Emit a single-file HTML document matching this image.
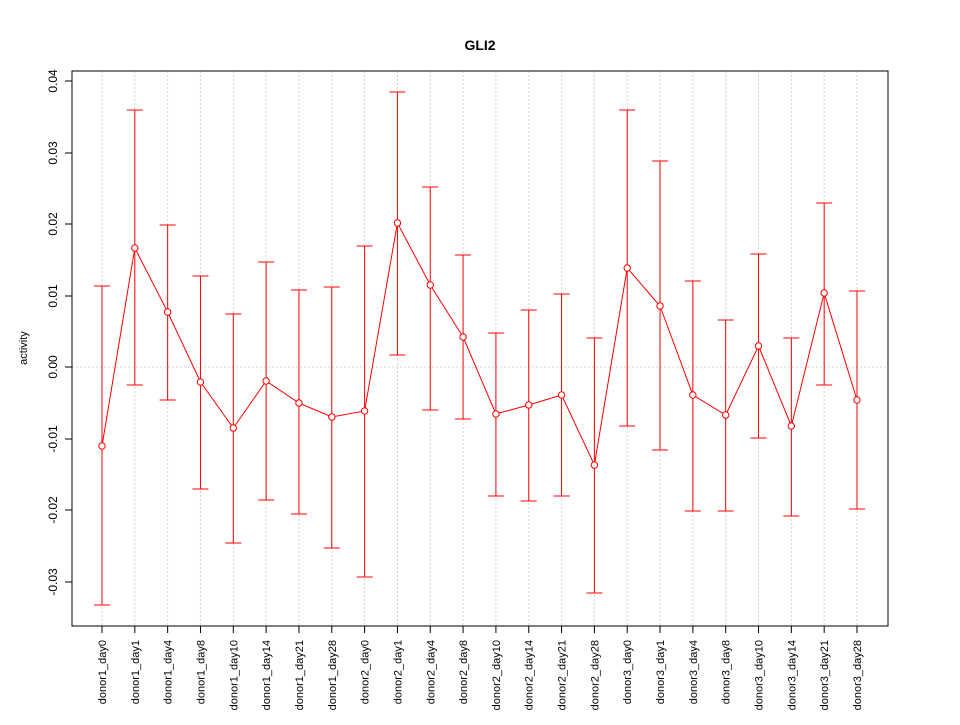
<!DOCTYPE html>
<html><head><meta charset="utf-8"><style>body{margin:0;background:#fff}</style></head><body>
<svg width="960" height="720" xmlns="http://www.w3.org/2000/svg" font-family="Liberation Sans, sans-serif">
<rect width="960" height="720" fill="#fff"/>
<text x="480" y="50" text-anchor="middle" font-size="14" font-weight="bold">GLI2</text>
<g id="grid" stroke="#d3d3d3" stroke-dasharray="2,2" stroke-width="1"></g>
<line x1="72" x2="888" y1="367" y2="367" stroke="#d3d3d3" stroke-dasharray="2,2"/>
<rect x="72" y="71" width="816" height="555" fill="none" stroke="#000"/>
<g id="yax" font-size="12"></g>
<text transform="translate(27,348) rotate(-90)" text-anchor="middle" font-size="11">activity</text>
<g id="xax" font-size="11"></g>
<g id="ser" stroke="#ff0000" fill="none"></g>
</svg>
<script>
const ns="http://www.w3.org/2000/svg";
function el(p,t,a,txt){const e=document.createElementNS(ns,t);for(const k in a)e.setAttribute(k,a[k]);if(txt)e.textContent=txt;document.getElementById(p).appendChild(e);return e;}
const labels=["donor1_day0","donor1_day1","donor1_day4","donor1_day8","donor1_day10","donor1_day14","donor1_day21","donor1_day28","donor2_day0","donor2_day1","donor2_day4","donor2_day8","donor2_day10","donor2_day14","donor2_day21","donor2_day28","donor3_day0","donor3_day1","donor3_day4","donor3_day8","donor3_day10","donor3_day14","donor3_day21","donor3_day28"];
const d=[[446,286,605],[248,110,385],[312,225,400],[382,276,489],[428,314,543],[381,262,500],[403,290,514],[417,287,548],[411,246,577],[223,92,355],[285,187,410],[337,255,419],[414,333,496],[405,310,501],[395,294,496],[465,338,593],[268,110,426],[306,161,450],[395,281,511],[415,320,511],[346,254,438],[426,338,516],[293,203,385],[400,291,509]];
const X=i=>102+i*(755/23);
labels.forEach((l,i)=>{const x=X(i);
el("grid","line",{x1:x,x2:x,y1:71,y2:626});
el("xax","line",{x1:x,x2:x,y1:626,y2:633,stroke:"#000"});
el("xax","text",{transform:`translate(${x+4},640) rotate(-90)`,"text-anchor":"end"},l);
});
el("xax","line",{x1:X(0),x2:X(23),y1:626,y2:626,stroke:"#000"});
[[0.04,81],[0.03,153],[0.02,224],[0.01,296],[0.00,367],[-0.01,439],[-0.02,510],[-0.03,582]].forEach(([v,y])=>{
el("yax","line",{x1:65,x2:72,y1:y,y2:y,stroke:"#000"});
el("yax","text",{transform:`translate(57,${y}) rotate(-90)`,"text-anchor":"middle"},v.toFixed(2));
});
el("yax","line",{x1:72,x2:72,y1:81,y2:582,stroke:"#000"});
el("ser","polyline",{points:d.map((p,i)=>X(i)+","+p[0]).join(" ")});
d.forEach((p,i)=>{const x=X(i);
el("ser","line",{x1:x,x2:x,y1:p[1],y2:p[2]});
el("ser","line",{x1:x-8,x2:x+8,y1:p[1],y2:p[1]});
el("ser","line",{x1:x-8,x2:x+8,y1:p[2],y2:p[2]});
el("ser","circle",{cx:x,cy:p[0],r:3.2,fill:"#fff"});
});
</script>
</body></html>
